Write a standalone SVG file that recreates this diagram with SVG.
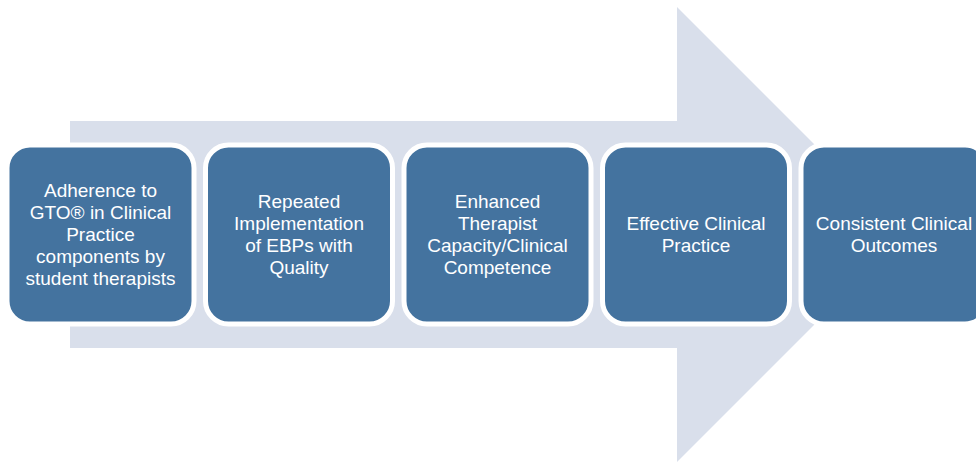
<svg xmlns="http://www.w3.org/2000/svg" width="976" height="462" viewBox="0 0 976 462">
  <style>
    .box { fill: #44739f; stroke: #ffffff; stroke-width: 5; }
    .lbl { fill: #ffffff; font-family: "Liberation Sans", Arial, sans-serif; font-size: 19px; text-anchor: middle; }
  </style>
  <rect width="976" height="462" fill="#ffffff"/>
  <g id="connectors">
    <polygon points="70,121 677,121 677,7 904.5,234.5 677,462 677,348 70,348" fill="#d9dfeb"/>
  </g>
  <g id="node1">
    <rect class="box" x="7" y="145" width="187" height="179" rx="23"/>
    <text class="lbl" x="100.5" y="197">Adherence to</text>
    <text class="lbl" x="100.5" y="219">GTO® in Clinical</text>
    <text class="lbl" x="100.5" y="241">Practice</text>
    <text class="lbl" x="100.5" y="263">components by</text>
    <text class="lbl" x="100.5" y="285">student therapists</text>
  </g>
  <g id="node2">
    <rect class="box" x="205.5" y="145" width="187" height="179" rx="23"/>
    <text class="lbl" x="299" y="208">Repeated</text>
    <text class="lbl" x="299" y="230">Implementation</text>
    <text class="lbl" x="299" y="252">of EBPs with</text>
    <text class="lbl" x="299" y="274">Quality</text>
  </g>
  <g id="node3">
    <rect class="box" x="404" y="145" width="187" height="179" rx="23"/>
    <text class="lbl" x="497.5" y="208">Enhanced</text>
    <text class="lbl" x="497.5" y="230">Therapist</text>
    <text class="lbl" x="497.5" y="252">Capacity/Clinical</text>
    <text class="lbl" x="497.5" y="274">Competence</text>
  </g>
  <g id="node4">
    <rect class="box" x="602.5" y="145" width="187" height="179" rx="23"/>
    <text class="lbl" x="696" y="230">Effective Clinical</text>
    <text class="lbl" x="696" y="252">Practice</text>
  </g>
  <g id="node5">
    <rect class="box" x="801" y="145" width="187" height="179" rx="23"/>
    <text class="lbl" x="894" y="230">Consistent Clinical</text>
    <text class="lbl" x="894" y="252">Outcomes</text>
  </g>
</svg>
